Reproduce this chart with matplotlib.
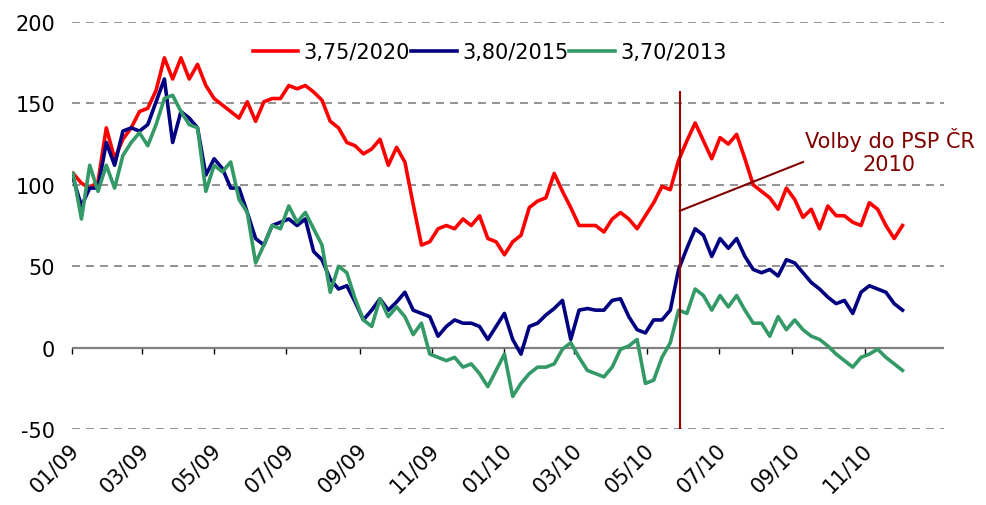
import matplotlib
matplotlib.use("Agg")
import matplotlib.pyplot as plt
import matplotlib.dates as mdates
from matplotlib.transforms import ScaledTranslation
import pandas as pd

plt.rcParams["axes.unicode_minus"] = False

# weekly readings, Jan 2009 - Dec 2010
dates = pd.date_range("2009-01-02", periods=101, freq="7D")

bond_2020 = [107, 101, 98, 102, 135, 116, 128, 135, 145, 147, 158, 178, 165, 178, 165, 174, 161,
             153, 149, 145, 141, 151, 139, 151, 153, 153, 161, 159, 161, 157, 152, 139, 135, 126,
             124, 119, 122, 128, 112, 123, 114, 88, 63, 65, 73, 75, 73, 79, 75, 81, 67, 65, 57,
             65, 69, 86, 90, 92, 107, 96, 86, 75, 75, 75, 71, 79, 83, 79, 73, 81, 89, 99, 97, 115,
             127, 138, 127, 116, 129, 125, 131, 116, 100, 96, 92, 85, 98, 91, 80, 85, 73, 87, 81,
             81, 77, 75, 89, 85, 75, 67, 75]

bond_2015 = [104, 87, 98, 98, 126, 112, 133, 135, 133, 137, 151, 165, 126, 145, 141, 135, 106,
             116, 110, 98, 98, 83, 67, 63, 75, 77, 79, 75, 79, 59, 54, 42, 36, 38, 28, 17, 23, 30,
             23, 28, 34, 23, 21, 19, 7, 13, 17, 15, 15, 13, 5, 13, 21, 5, -4, 13, 15, 20, 24, 29,
             5, 23, 24, 23, 23, 29, 30, 19, 11, 9, 17, 17, 23, 48, 61, 73, 69, 56, 67, 61, 67, 56,
             48, 46, 48, 44, 54, 52, 46, 40, 36, 31, 27, 29, 21, 34, 38, 36, 34, 27, 23]

bond_2013 = [107, 79, 112, 96, 112, 98, 118, 126, 132, 124, 137, 153, 155, 145, 137, 135, 96,
             112, 108, 114, 91, 83, 52, 63, 75, 73, 87, 77, 83, 73, 63, 34, 50, 46, 30, 17, 13, 30,
             19, 25, 19, 8, 15, -4, -6, -8, -6, -12, -10, -16, -24, -14, -4, -30, -22, -16, -12,
             -12, -10, -1, 3, -6, -14, -16, -18, -12, -1, 1, 5, -22, -20, -6, 3, 23, 21, 36, 32,
             23, 32, 25, 32, 23, 15, 15, 7, 19, 11, 17, 11, 7, 5, 1, -4, -8, -12, -6, -4, -1, -6,
             -10, -14]

series_names = ["3,75/2020", "3,80/2015", "3,70/2013"]
tick_dates = pd.date_range("2009-01-01", "2010-11-01", freq="2MS")
tick_labels = ["01/09", "03/09", "05/09", "07/09", "09/09", "11/09",
               "01/10", "03/10", "05/10", "07/10", "09/10", "11/10"]

election_date = "2010-05-29"
note_text = "Volby do PSP ČR\n2010"

x = mdates.date2num(dates)
ticks = mdates.date2num(tick_dates)
x_elect = mdates.date2num(pd.Timestamp(election_date))

fig = plt.figure(figsize=(9.87, 5.06), dpi=100)
ax = fig.add_axes([0.0729, 0.1502, 0.8835, 0.8043])

ax.plot(x, bond_2020, color="#ff0000", lw=2.6, label=series_names[0])
ax.plot(x, bond_2015, color="#000080", lw=2.6, label=series_names[1])
ax.plot(x, bond_2013, color="#339966", lw=2.6, label=series_names[2])

ax.set_xlim(mdates.date2num(pd.Timestamp("2009-01-01")), mdates.date2num(pd.Timestamp("2011-01-07")))
ax.set_ylim(-50, 200)
ax.set_yticks([-50, 0, 50, 100, 150, 200])
ax.yaxis.grid(True, color="#808080", lw=1.2, linestyle=(0, (4.8, 3.6)))
ax.set_axisbelow(True)
ax.axhline(0, color="#808080", lw=1.6, zorder=1.5)

for s in ax.spines.values():
    s.set_visible(False)

ax.tick_params(axis="y", length=0, pad=12, labelsize=15)
ax.set_xticks(ticks, tick_labels)
ax.tick_params(axis="x", length=0, pad=7, labelsize=15)
for lbl in ax.get_xticklabels():
    lbl.set_rotation(45)
    lbl.set_ha("right")
    lbl.set_rotation_mode("anchor")
    lbl.set_transform(lbl.get_transform() + ScaledTranslation(-0.03, 0, fig.dpi_scale_trans))

# tick marks on the zero line
sec = ax.secondary_xaxis(0.2)
sec.set_xticks(ticks, [""] * len(ticks))
sec.tick_params(direction="out", length=4.5, width=1, color="black")
sec.spines["bottom"].set_visible(False)

# election marker
ax.plot([x_elect, x_elect], [-50, 157], color="#990000", lw=1.5)
ax.plot([x_elect, mdates.date2num(pd.Timestamp("2010-09-10"))], [84, 114], color="#800000", lw=1.5)
ax.text(mdates.date2num(pd.Timestamp("2010-11-22")), 121, note_text, color="#800000",
        fontsize=15, ha="center", va="center")

ax.legend(loc="center", bbox_to_anchor=(0.479, 0.926), ncol=3, frameon=False, fontsize=15,
          handlelength=2.2, handletextpad=0.25, columnspacing=0.05, borderaxespad=0)

fig.savefig("out.png", dpi=100)
